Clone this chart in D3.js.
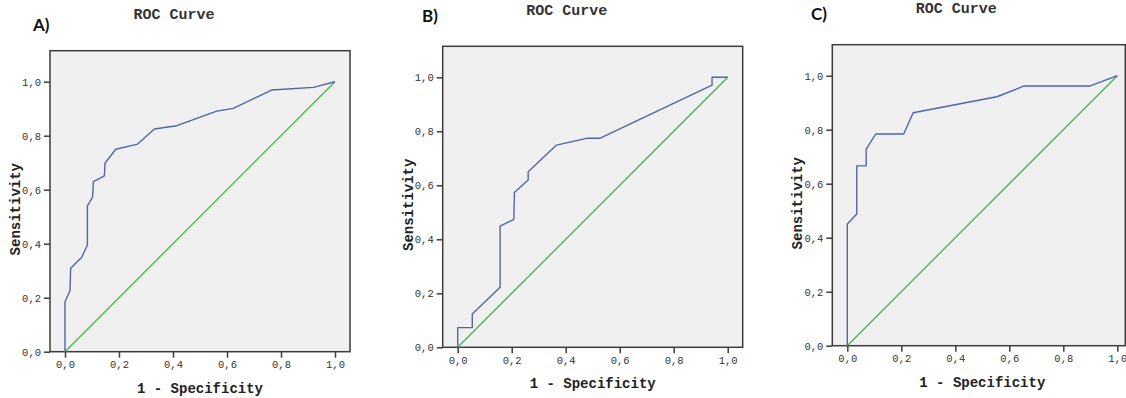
<!DOCTYPE html>
<html>
<head>
<meta charset="utf-8">
<script src="https://cdn.jsdelivr.net/npm/d3@7"></script>
<style>
  html, body { margin: 0; padding: 0; background: #fff; }
  svg { display: block; }
  .tick text { font-family: "Liberation Mono", "DejaVu Sans Mono", monospace; font-size: 10.5px; fill: #333; }
  .axis-title { font-family: "Liberation Mono", monospace; font-weight: bold; font-size: 14px; fill: #222; }
  .chart-title { font-family: "Liberation Mono", monospace; font-weight: bold; font-size: 15px; fill: #333; }
  .panel-label { font-family: Lato, "Open Sans", sans-serif; font-weight: bold; font-size: 17px; fill: #111; }
</style>
</head>
<body>
<svg id="chart" width="1126" height="398"></svg>
<script>
// ROC curve A
const rocA_fpr = [0, 0, 0.0185, 0.021, 0.062, 0.083, 0.083, 0.102, 0.105, 0.146, 0.148, 0.188, 0.269, 0.331, 0.414, 0.562, 0.623, 0.765, 0.92, 1];
const rocA_tpr = [0, 0.185, 0.226, 0.309, 0.350, 0.395, 0.540, 0.572, 0.630, 0.651, 0.698, 0.750, 0.769, 0.825, 0.837, 0.891, 0.901, 0.969, 0.979, 1];

// ROC curve B
const rocB_fpr = [0, 0, 0.054, 0.054, 0.157, 0.157, 0.208, 0.21, 0.261, 0.261, 0.366, 0.477, 0.526, 0.942, 0.942, 1];
const rocB_tpr = [0, 0.073, 0.073, 0.123, 0.222, 0.449, 0.474, 0.573, 0.62, 0.65, 0.749, 0.774, 0.774, 0.971, 1, 1];

// ROC curve C
const rocC_fpr = [0, 0, 0.035, 0.035, 0.07, 0.07, 0.105, 0.209, 0.244, 0.554, 0.655, 0.9, 1];
const rocC_tpr = [0, 0.451, 0.488, 0.666, 0.666, 0.728, 0.784, 0.784, 0.863, 0.922, 0.962, 0.962, 1];

// reference line
const diag_fpr = [0, 1];
const diag_tpr = [0, 1];

const tickValues = [0, 0.2, 0.4, 0.6, 0.8, 1.0];
const panelLabels = ['A)', 'B)', 'C)'];
const chartTitle = 'ROC Curve';
const xTitle = '1 - Specificity';
const yTitle = 'Sensitivity';

const fmt = v => d3.format('.1f')(v).replace('.', ',');

const UNIT = 270; // px per 1.0
const panels = [
    { fpr: rocA_fpr, tpr: rocA_tpr, ox: 65,    oy: 351.7, boxRight: 285, labelX: 33,  labelY: 31 },
    { fpr: rocB_fpr, tpr: rocB_tpr, ox: 457.7, oy: 347.3, boxRight: 285, labelX: 422, labelY: 22 },
    { fpr: rocC_fpr, tpr: rocC_tpr, ox: 847.3, oy: 345.7, boxRight: 278, labelX: 811, labelY: 20 },
];

const svg = d3.select('#chart');

panels.forEach((p, i) => {
    const x = d3.scaleLinear().domain([0, 1]).range([p.ox, p.ox + UNIT]);
    const y = d3.scaleLinear().domain([0, 1]).range([p.oy, p.oy - UNIT]);

    const left = x(-15 / UNIT);
    const right = p.ox + p.boxRight;
    const top = y(301 / UNIT);
    const bottom = y(0);

    const g = svg.append('g');

    // plot background
    g.append('rect')
        .attr('x', left).attr('y', top)
        .attr('width', right - left).attr('height', bottom - top)
        .attr('fill', '#f0f0f0')
        .attr('stroke', '#3c3c3c')
        .attr('stroke-width', 1.5);

    // axes
    const xAxis = g.append('g')
        .attr('transform', `translate(0,${bottom})`)
        .call(d3.axisBottom(x).tickValues(tickValues).tickFormat(fmt).tickSizeOuter(0).tickSize(6).tickPadding(3));
    const yAxis = g.append('g')
        .attr('transform', `translate(${left},0)`)
        .call(d3.axisLeft(y).tickValues(tickValues).tickFormat(fmt).tickSizeOuter(0).tickSize(6).tickPadding(3));
    [xAxis, yAxis].forEach(a => {
        a.select('.domain').remove();
        a.selectAll('.tick line').attr('stroke', '#3c3c3c').attr('stroke-width', 1.5);
    });

    const line = d3.line().x(d => x(d[0])).y(d => y(d[1]));

    // diagonal reference
    g.append('path')
        .datum(d3.zip(diag_fpr, diag_tpr))
        .attr('d', line)
        .attr('fill', 'none')
        .attr('stroke', '#4cb050')
        .attr('stroke-width', 1.3);

    // ROC curve
    g.append('path')
        .datum(d3.zip(p.fpr, p.tpr))
        .attr('d', line)
        .attr('fill', 'none')
        .attr('stroke', '#5265a8')
        .attr('stroke-width', 1.4)
        .attr('stroke-linejoin', 'round');

    // titles
    g.append('text')
        .attr('class', 'chart-title')
        .attr('x', left + 150 - 26).attr('y', top - 31.5)
        .attr('text-anchor', 'middle')
        .text(chartTitle);

    g.append('text')
        .attr('class', 'axis-title')
        .attr('x', left + 150).attr('y', bottom + 41)
        .attr('text-anchor', 'middle')
        .text(xTitle);

    g.append('text')
        .attr('class', 'axis-title')
        .attr('transform', `translate(${left - 35},${(top + bottom) / 2 + 8}) rotate(-90)`)
        .attr('dy', '0.35em')
        .attr('text-anchor', 'middle')
        .text(yTitle);

    g.append('text')
        .attr('class', 'panel-label')
        .attr('x', p.labelX).attr('y', p.labelY)
        .text(panelLabels[i]);
});
</script>
</body>
</html>
